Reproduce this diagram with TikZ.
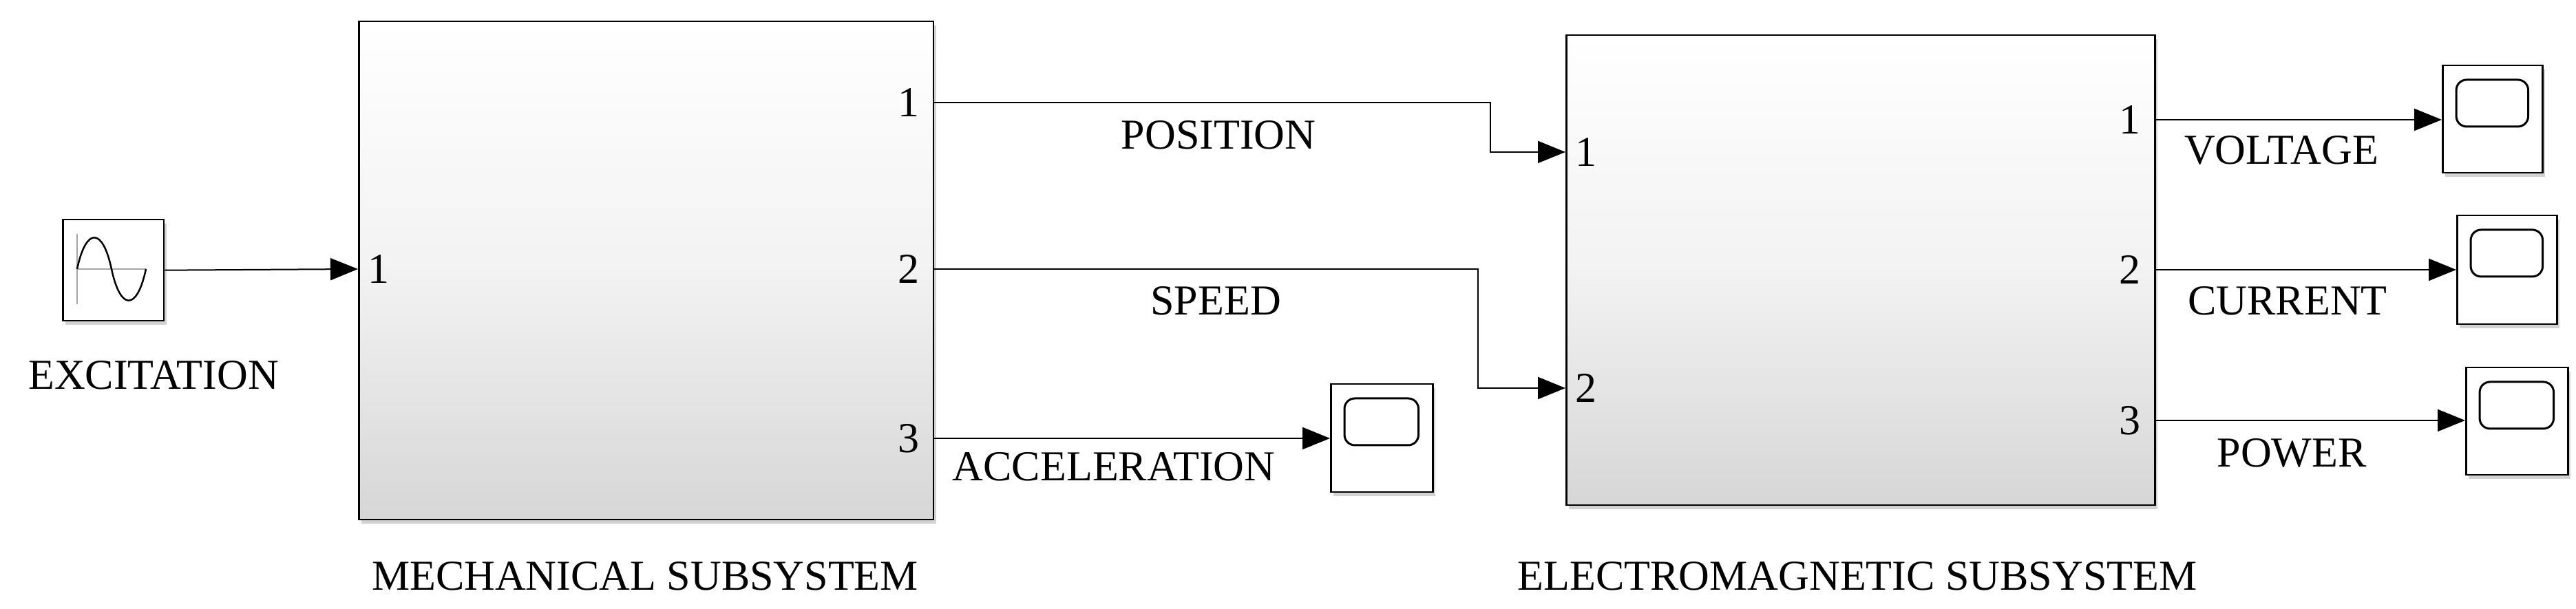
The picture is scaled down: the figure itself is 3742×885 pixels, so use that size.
\documentclass[tikz,border=0pt]{standalone}
\usepackage{fontspec}
\setmainfont{Liberation Serif}
\usetikzlibrary{arrows.meta,shadows}

\tikzset{
    blk/.style={draw, line width=0.25pt, inner sep=0pt, anchor=north west,
        top color=white, bottom color=black!16, middle color=white!95!black,
        drop shadow={shadow xshift=0.4pt, shadow yshift=-0.6pt, fill=black!35}},
    box/.style={draw, line width=0.25pt, fill=white, inner sep=0pt, anchor=north west,
        drop shadow={shadow xshift=0.4pt, shadow yshift=-0.6pt, fill=black!35}},
    sig/.style={line width=0.2pt, -{Triangle[length=4pt, width=3.2pt]}},
    lbl/.style={font=\fontsize{6.2}{7}\selectfont, inner sep=0pt}
}

\begin{document}
\begin{tikzpicture}[x=0.1pt,y=0.1pt,yscale=-1]
    \useasboundingbox (0,0) rectangle (3742,885);

    % Blocks
    \node[blk, minimum width=83.5pt, minimum height=72.4pt] (mech) at (520,30) {};
    \node[blk, minimum width=85.5pt, minimum height=68.3pt] (em) at (2274,50) {};
    \node[box, minimum width=14.7pt, minimum height=14.7pt] (sine) at (90,318) {};
    \node[box, minimum width=14.8pt, minimum height=15.7pt] (sacc) at (1932,557) {};
    \node[box, minimum width=14.5pt, minimum height=15.6pt] (svolt) at (3547,94) {};
    \node[box, minimum width=14.5pt, minimum height=15.8pt] (scurr) at (3568,312) {};
    \node[box, minimum width=14.8pt, minimum height=15.6pt] (spow) at (3581,533) {};

    % Sine icon
    \draw[black!35, line width=0.2pt] (112,340) -- (112,442) (112,391) -- (212,391);
    \draw[line width=0.25pt] (112,391) .. controls (125,330) and (149,330) .. (162,391)
        .. controls (175,452) and (199,452) .. (212,391);

    % Scope icons
    \foreach \s in {sacc,svolt,scurr,spow}
        \draw[line width=0.3pt, rounded corners=1.5pt]
            ([shift={(21,22)}]\s.north west) rectangle ([shift={(-22,90)}]\s.north east);

    % Ports
    \coordinate (m-in) at (520,391);
    \coordinate (m-o1) at (1355,149);
    \coordinate (m-o2) at (1355,391);
    \coordinate (m-o3) at (1355,637);
    \coordinate (e-i1) at (2274,221);
    \coordinate (e-i2) at (2274,564);
    \coordinate (e-o1) at (3129,174);
    \coordinate (e-o2) at (3129,392);
    \coordinate (e-o3) at (3129,611);

    \foreach \p/\t in {m-in/1,e-i1/1,e-i2/2}
        \node[lbl, anchor=west] at ([xshift=1.2pt]\p) {\t};
    \foreach \p/\t in {m-o1/1,m-o2/2,m-o3/3,e-o1/1,e-o2/2,e-o3/3}
        \node[lbl, anchor=east] at ([xshift=-1.8pt]\p) {\t};

    % Signals
    \draw[sig] (sine.east) -- (m-in);
    \draw[sig] (m-o1) -| (2165,221) -- (e-i1);
    \draw[sig] (m-o2) -| (2147,564) -- (e-i2);
    \draw[sig] (m-o3) -- (sacc.west |- m-o3);
    \draw[sig] (e-o1) -- (svolt.west |- e-o1);
    \draw[sig] (e-o2) -- (scurr.west |- e-o2);
    \draw[sig] (e-o3) -- (spow.west |- e-o3);

    % Text
    \node[lbl] (t-exc) at (223,545) {EXCITATION};
    \node[lbl] (t-mech) at (937,837) {MECHANICAL SUBSYSTEM};
    \node[lbl] (t-em) at (2698,837) {ELECTROMAGNETIC SUBSYSTEM};
    \node[lbl] (t-pos) at (1770,196) {POSITION};
    \node[lbl] (t-spd) at (1766,437) {SPEED};
    \node[lbl] (t-acc) at (1618,678) {ACCELERATION};
    \node[lbl] (t-volt) at (3314,218) {VOLTAGE};
    \node[lbl] (t-curr) at (3323,437) {CURRENT};
    \node[lbl] (t-pow) at (3329,658) {POWER};
\end{tikzpicture}
\end{document}
